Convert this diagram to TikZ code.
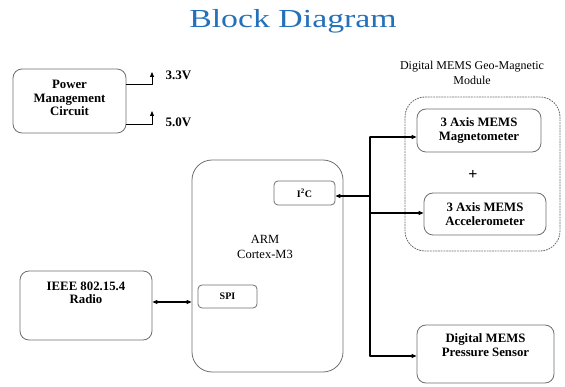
\documentclass[tikz,border=0pt]{standalone}
\usepackage{fontspec}
\setmainfont{Liberation Serif}
\usepackage{xcolor}
\usetikzlibrary{arrows.meta,calc}
\definecolor{titleblue}{RGB}{36,112,186}
\definecolor{boxgray}{RGB}{110,110,110}

\begin{document}
\begin{tikzpicture}[line cap=round,line join=round,>={Triangle[length=5pt,width=4pt]},x=1pt,y=-1pt,
    blk/.style={draw=boxgray,line width=0.8pt,rounded corners=9pt,inner sep=0pt},
    blktext/.style={font=\bfseries\fontsize{12.8}{13.5}\selectfont,align=center},
    port/.style={draw=boxgray,line width=0.8pt,rounded corners=4pt,inner sep=0pt,font=\bfseries\fontsize{10}{11}\selectfont},
    wire/.style={line width=1.2pt,black}]
    \useasboundingbox (0,0) rectangle (565,387);
    % title
    \node (title) at (293,21) {\color{titleblue}\scalebox{1.3}[1]{\fontsize{26}{28}\selectfont Block Diagram}};
    % blocks
    \node[blk,minimum width=113pt,minimum height=64pt] (pwr) at (69.5,101) {};
    \node[blktext] (pwrtxt) at (69.5,98) {Power\\Management\\Circuit};
    \node[blk,rounded corners=20pt,minimum width=151pt,minimum height=212pt] (arm) at (267.5,266) {};
    \node[font=\fontsize{12.5}{15}\selectfont,align=center] (armtxt) at (265,247) {ARM\\Cortex-M3};
    \node[port,minimum width=61pt,minimum height=24pt] (i2c) at (304.5,193) {I\textsuperscript{2}C};
    \node[port,minimum width=59pt,minimum height=23pt] (spi) at (227.5,296.5) {SPI};
    \node[blk,minimum width=132pt,minimum height=69pt] (radio) at (86,305.5) {};
    \node[blktext] (radiotxt) at (86,293) {IEEE 802.15.4\\Radio};
    \node[draw=boxgray,line width=0.9pt,dash pattern=on 1.2pt off 1.5pt,rounded corners=20pt,minimum width=155pt,minimum height=154pt] (module) at (482.5,174) {};
    \node[font=\fontsize{12}{15}\selectfont,align=center] (modtxt) at (472,73) {Digital MEMS Geo-Magnetic\\Module};
    \node[blk,minimum width=124pt,minimum height=43pt,blktext] (mag) at (479,130.5) {3 Axis MEMS\\Magnetometer};
    \node[font=\bfseries\fontsize{16}{16}\selectfont] (plus) at (473,175) {+};
    \node[blk,minimum width=122pt,minimum height=42pt,blktext] (acc) at (485,214) {3 Axis MEMS\\Accelerometer};
    \node[blk,minimum width=137pt,minimum height=58pt] (press) at (485.5,354) {};
    \node[blktext] (presstxt) at (485.5,345) {Digital MEMS\\Pressure Sensor};
    % power outputs
    \coordinate (v33) at (152,72);
    \coordinate (v50) at (152,111);
    \draw[wire,line width=1pt,->] (pwr.east |- 0,85) -| (v33);
    \draw[wire,line width=1pt,->] (pwr.east |- 0,125) -| (v50);
    \node[font=\bfseries\fontsize{13}{14}\selectfont,anchor=west] (v33txt) at (162,75) {3.3V};
    \node[font=\bfseries\fontsize{13}{14}\selectfont,anchor=west] (v50txt) at (162,122) {5.0V};
    % radio link
    \draw[wire,<->] (radio.east |- 0,302) -- (arm.west |- 0,302);
    % sensor bus
    \coordinate (busTop) at (370,137);
    \coordinate (busI2C) at (370,196);
    \coordinate (busAcc) at (370,213);
    \coordinate (busBot) at (370,356);
    \draw[wire] (busTop) -- (busBot);
    \draw[wire,->] (busI2C) -- (busI2C -| i2c.east);
    \draw[wire,->] (busTop) -- (busTop -| mag.west);
    \draw[wire,->] (busAcc) -- (busAcc -| acc.west);
    \draw[wire,->] (busBot) -- (busBot -| press.west);
\end{tikzpicture}
\end{document}
